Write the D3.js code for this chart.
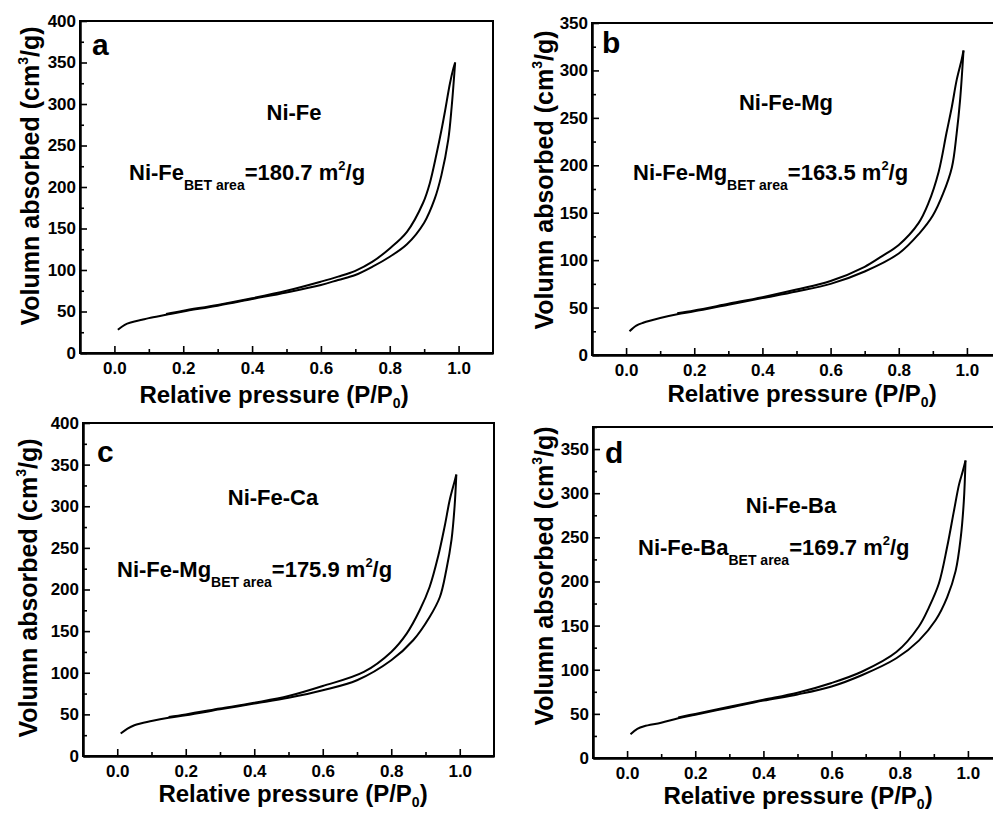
<!DOCTYPE html>
<html>
<head>
<meta charset="utf-8">
<script src="https://cdn.jsdelivr.net/npm/d3@7/dist/d3.min.js"></script>
<style>
  body { margin: 0; background: #fff; }
  svg text { font-family: Arial, "Liberation Sans", sans-serif; font-weight: bold; fill: #000; }
</style>
</head>
<body>
<svg id="chart" width="993" height="814"></svg>
<script>
// isotherm data: [P/P0, volume]
var adsA = [[0.01,28],[0.03,34],[0.05,37],[0.08,40],[0.1,42],[0.15,46],[0.2,50],[0.3,57],[0.4,65],[0.5,73],[0.6,82],[0.65,88],[0.7,94],[0.75,104],[0.8,116],[0.85,131],[0.9,157],[0.93,185],[0.95,214],[0.97,257],[0.98,297],[0.99,350]]
var desA = [[0.99,350],[0.985,343],[0.975,325],[0.96,290],[0.95,268],[0.936,240],[0.916,204],[0.897,181],[0.85,146],[0.8,126],[0.75,110],[0.7,99],[0.65,92],[0.6,86],[0.5,75],[0.4,66],[0.3,58],[0.2,51],[0.15,47]]

var adsB = [[0.01,25],[0.03,31],[0.05,34],[0.1,39],[0.15,43],[0.2,46],[0.3,53],[0.4,60],[0.5,67],[0.6,75],[0.7,88],[0.8,107],[0.86,128],[0.9,147],[0.93,170],[0.956,198],[0.97,234],[0.98,269],[0.99,321]]
var desB = [[0.99,321],[0.985,312],[0.97,290],[0.956,262],[0.94,234],[0.917,193],[0.887,160],[0.858,139],[0.8,116],[0.75,104],[0.7,93],[0.6,78],[0.5,69],[0.4,61],[0.3,54],[0.2,47],[0.15,44]]

var adsC = [[0.01,27],[0.03,33],[0.05,37],[0.1,42],[0.15,46],[0.2,49],[0.3,56],[0.4,63],[0.5,70],[0.6,79],[0.7,91],[0.8,115],[0.864,139],[0.912,167],[0.942,191],[0.961,224],[0.976,260],[0.985,300],[0.99,338]]
var desC = [[0.99,338],[0.985,330],[0.971,308],[0.956,276],[0.937,240],[0.912,203],[0.883,175],[0.845,147],[0.8,125],[0.72,101],[0.6,84],[0.5,72],[0.4,64],[0.3,57],[0.2,50],[0.15,47]]

var adsD = [[0.01,27],[0.03,33],[0.05,36],[0.1,40],[0.15,45],[0.2,49],[0.3,57],[0.4,65],[0.5,72],[0.6,81],[0.69,94],[0.79,113],[0.856,133],[0.905,156],[0.939,182],[0.964,212],[0.979,250],[0.988,291],[0.993,337]]
var desD = [[0.993,337],[0.985,325],[0.974,310],[0.959,280],[0.939,239],[0.915,198],[0.886,171],[0.856,149],[0.79,120],[0.69,98],[0.6,85],[0.5,74],[0.4,66],[0.3,58],[0.2,50],[0.15,46]]

var panelLetters = ["a", "b", "c", "d"]
var sampleNames = ["Ni-Fe", "Ni-Fe-Mg", "Ni-Fe-Ca", "Ni-Fe-Ba"]
var betNames = ["Ni-Fe", "Ni-Fe-Mg", "Ni-Fe-Mg", "Ni-Fe-Ba"]
var betValues = ["180.7", "163.5", "175.9", "169.7"]
var yMax = [400, 350, 400, 375]
var xDomain = [-0.1, 1.1]
var xTicks = [0, 0.2, 0.4, 0.6, 0.8, 1.0]
var xMinor = [0.1, 0.3, 0.5, 0.7, 0.9]

var adsList = [adsA, adsB, adsC, adsD]
var desList = [desA, desB, desC, desD]

// where each panel sits on the page
var layout = [
	{left: 80, right: 493, top: 21, bottom: 353, ytx: 30, yty: 176, xtx: 274, xty: 403, lx: 92, ly: 55, nx: 294, ny: 120, bx: 129, by: 180},
	{left: 592, right: 1001, top: 23, bottom: 355, ytx: 544, yty: 180, xtx: 802, xty: 402, lx: 602, ly: 53, nx: 786, ny: 110, bx: 633, by: 180},
	{left: 83, right: 494, top: 423, bottom: 756, ytx: 28, yty: 588, xtx: 293, xty: 802, lx: 97, ly: 462, nx: 273, ny: 505, bx: 117, by: 577},
	{left: 593, right: 1002, top: 427, bottom: 758, ytx: 544, yty: 576, xtx: 798, xty: 804, lx: 605, ly: 463, nx: 791, ny: 513, bx: 638, by: 555}
]

var svg = d3.select("#chart")

for (var i = 0; i < 4; i++) {
	draw_panel(i)
}

function draw_panel(i) {
	var L = layout[i]
	var x = d3.scaleLinear().domain(xDomain).range([L.left, L.right])
	var y = d3.scaleLinear().domain([0, yMax[i]]).range([L.bottom, L.top])
	var g = svg.append("g").attr("class", "panel_" + panelLetters[i])

	// frame
	g.append("rect")
	  .attr("x", L.left).attr("y", L.top)
	  .attr("width", L.right - L.left).attr("height", L.bottom - L.top)
	  .style("fill", "none").style("stroke", "#000").style("stroke-width", 2)

	// minor ticks first, then major axes with labels
	var yMinor = d3.range(25, yMax[i] + 1, 50)
	g.append("g")
	  .attr("transform", "translate(" + L.left + ",0)")
	  .call(d3.axisLeft(y).tickValues(yMinor).tickSize(-4).tickSizeOuter(0).tickFormat(""))
	g.append("g")
	  .attr("transform", "translate(0," + L.bottom + ")")
	  .call(d3.axisBottom(x).tickValues(xMinor).tickSize(-4).tickSizeOuter(0).tickFormat(""))

	g.append("g")
	  .attr("transform", "translate(" + L.left + ",0)")
	  .call(d3.axisLeft(y).tickValues(d3.range(0, yMax[i] + 1, 50)).tickSize(-7).tickSizeOuter(0).tickPadding(4))
	g.append("g")
	  .attr("transform", "translate(0," + L.bottom + ")")
	  .call(d3.axisBottom(x).tickValues(xTicks).tickSize(-7).tickSizeOuter(0).tickPadding(9).tickFormat(d3.format(".1f")))

	g.selectAll(".domain").style("stroke", "#000").style("stroke-width", 2)
	g.selectAll(".tick line").style("stroke", "#000").style("stroke-width", 1.6)
	g.selectAll(".tick text").style("font-size", "17px").style("font-family", "Arial, 'Liberation Sans', sans-serif").style("font-weight", "bold")

	// isotherm branches
	var line = d3.line()
	  .x(d => x(d[0]))
	  .y(d => y(d[1]))
	  .curve(d3.curveCatmullRom.alpha(0.5))
	var branches = [adsList[i], desList[i].slice().sort((a, b) => a[0] - b[0])]
	g.selectAll(".branch")
	  .data(branches)
	  .enter().append("path")
	  .attr("class", "branch")
	  .attr("d", line)
	  .style("fill", "none")
	  .style("stroke", "#000")
	  .style("stroke-width", 2)
	  .style("stroke-linejoin", "round")

	// axis titles
	var yt = g.append("text")
	  .attr("transform", "translate(" + L.ytx + "," + L.yty + ") rotate(-90)")
	  .attr("text-anchor", "middle")
	  .attr("dy", "0.35em")
	  .style("font-size", "25px")
	yt.append("tspan").text("Volumn absorbed (cm")
	yt.append("tspan").attr("dy", -11).style("font-size", "14px").text("3")
	yt.append("tspan").attr("dy", 11).text("/g)")

	var xt = g.append("text")
	  .attr("x", L.xtx).attr("y", L.xty)
	  .attr("text-anchor", "middle")
	  .style("font-size", "24px")
	xt.append("tspan").text("Relative pressure (P/P")
	xt.append("tspan").attr("dy", 5).style("font-size", "14px").text("0")
	xt.append("tspan").attr("dy", -5).text(")")

	// panel letter and sample name
	g.append("text").attr("x", L.lx).attr("y", L.ly).style("font-size", "30px").text(panelLetters[i])
	g.append("text").attr("x", L.nx).attr("y", L.ny).attr("text-anchor", "middle").style("font-size", "22px").text(sampleNames[i])

	var bt = g.append("text").attr("x", L.bx).attr("y", L.by).style("font-size", "22px")
	bt.append("tspan").text(betNames[i])
	bt.append("tspan").attr("dy", 10).style("font-size", "14px").text("BET area")
	bt.append("tspan").attr("dy", -10).text("=" + betValues[i] + " m")
	bt.append("tspan").attr("dy", -10).style("font-size", "13px").text("2")
	bt.append("tspan").attr("dy", 10).text("/g")
}
</script>
</body>
</html>
